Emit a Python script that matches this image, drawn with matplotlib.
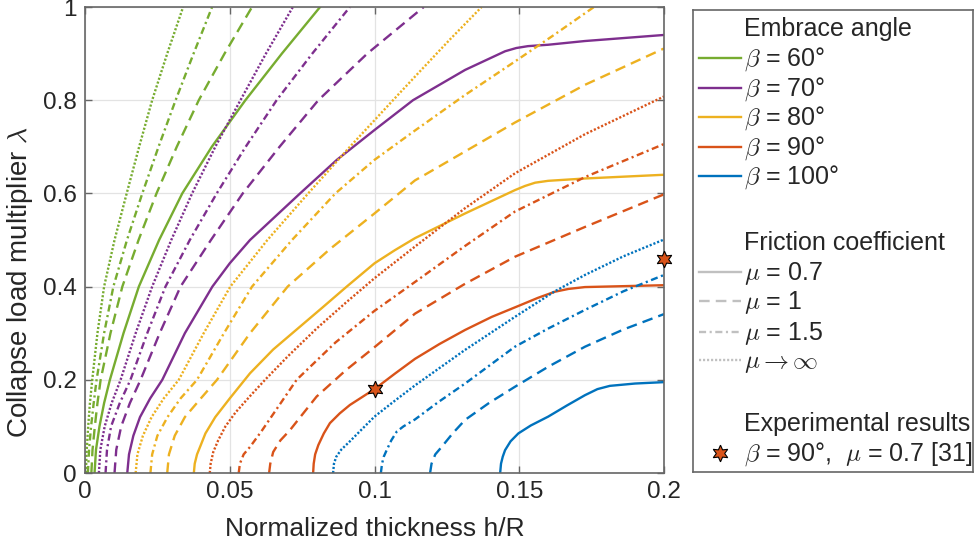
import matplotlib
matplotlib.use("Agg")
import matplotlib.pyplot as plt
from matplotlib.ticker import FixedLocator, FuncFormatter

plt.rcParams['font.family'] = ['Liberation Sans', 'DejaVu Sans']
plt.rcParams['mathtext.fontset'] = 'cm'

# Normalized thickness h/R (x) and collapse multiplier lambda (y)
# beta = 60 deg
g_h_07 = [0.0033, 0.0038, 0.0050, 0.0066, 0.0086, 0.0133, 0.0186, 0.0256, 0.0336, 0.0438, 0.0554, 0.0680, 0.0812]
g_l_07 = [0.0, 0.05, 0.10, 0.15, 0.20, 0.30, 0.40, 0.50, 0.60, 0.70, 0.80, 0.90, 1.00]
g_h_1 = [0.0022, 0.0026, 0.0034, 0.0043, 0.0054, 0.0088, 0.0129, 0.0185, 0.0247, 0.0317, 0.0393, 0.0482, 0.0577]
g_l_1 = [0.0, 0.05, 0.10, 0.15, 0.20, 0.30, 0.40, 0.50, 0.60, 0.70, 0.80, 0.90, 1.00]
g_h_15 = [0.0010, 0.0014, 0.0021, 0.0030, 0.0040, 0.0066, 0.0098, 0.0145, 0.0198, 0.0254, 0.0313, 0.0375, 0.0439]
g_l_15 = [0.0, 0.05, 0.10, 0.15, 0.20, 0.30, 0.40, 0.50, 0.60, 0.70, 0.80, 0.90, 1.00]
g_h_inf = [0.0003, 0.0006, 0.0011, 0.0017, 0.0025, 0.0043, 0.0066, 0.0102, 0.0144, 0.0187, 0.0232, 0.0284, 0.0339]
g_l_inf = [0.0, 0.05, 0.10, 0.15, 0.20, 0.30, 0.40, 0.50, 0.60, 0.70, 0.80, 0.90, 1.00]

# beta = 70 deg
p_h_07 = [0.0146, 0.0152, 0.0167, 0.0190, 0.0225, 0.0267, 0.0345, 0.0440, 0.0500, 0.0570, 0.0743, 0.0870,
          0.1000, 0.1133, 0.1313, 0.1451, 0.1490, 0.1530, 0.1600, 0.1727, 0.2000]
p_l_07 = [0.0, 0.04, 0.08, 0.12, 0.16, 0.20, 0.30, 0.40, 0.45, 0.50, 0.60, 0.672,
          0.736, 0.80, 0.865, 0.905, 0.912, 0.916, 0.919, 0.927, 0.940]
p_h_1 = [0.0102, 0.0108, 0.0125, 0.0155, 0.0192, 0.0258, 0.0330, 0.0435, 0.0545, 0.0672, 0.0806, 0.0975, 0.1170]
p_l_1 = [0.0, 0.05, 0.10, 0.15, 0.20, 0.30, 0.40, 0.50, 0.60, 0.70, 0.80, 0.90, 1.00]
p_h_15 = [0.0071, 0.0076, 0.0090, 0.0120, 0.0157, 0.0215, 0.0278, 0.0362, 0.0455, 0.0555, 0.0662, 0.0785, 0.0915]
p_l_15 = [0.0, 0.05, 0.10, 0.15, 0.20, 0.30, 0.40, 0.50, 0.60, 0.70, 0.80, 0.90, 1.00]
p_h_inf = [0.0048, 0.0053, 0.0068, 0.0092, 0.0123, 0.0175, 0.0232, 0.0298, 0.0370, 0.0450, 0.0537, 0.0625, 0.0718]
p_l_inf = [0.0, 0.05, 0.10, 0.15, 0.20, 0.30, 0.40, 0.50, 0.60, 0.70, 0.80, 0.90, 1.00]

# beta = 80 deg
y_h_07 = [0.0376, 0.0379, 0.0387, 0.0400, 0.0416, 0.0450, 0.0500, 0.0570, 0.0650, 0.0735, 0.0820, 0.0904,
          0.1000, 0.1070, 0.1140, 0.1313, 0.1485, 0.1520, 0.1555, 0.1600, 0.1727, 0.2000]
y_l_07 = [0.0, 0.02, 0.04, 0.06, 0.085, 0.12, 0.16, 0.214, 0.265, 0.31, 0.355, 0.40,
          0.45, 0.478, 0.504, 0.557, 0.607, 0.616, 0.623, 0.627, 0.632, 0.640]
y_h_1 = [0.0284, 0.0290, 0.0310, 0.0345, 0.0400, 0.0456, 0.0570, 0.0700, 0.0845, 0.1000, 0.1140, 0.1174,
         0.1485, 0.1727, 0.2000]
y_l_1 = [0.0, 0.04, 0.08, 0.12, 0.16, 0.20, 0.30, 0.40, 0.48, 0.557, 0.628, 0.640,
         0.752, 0.833, 0.911]
y_h_15 = [0.0226, 0.0232, 0.0250, 0.0285, 0.0330, 0.0387, 0.0480, 0.0577, 0.0715, 0.0865, 0.1000, 0.1140,
          0.1310, 0.1485, 0.1620, 0.1758]
y_l_15 = [0.0, 0.04, 0.08, 0.12, 0.16, 0.20, 0.30, 0.40, 0.50, 0.60, 0.672, 0.735,
          0.81, 0.883, 0.94, 1.00]
y_h_inf = [0.0175, 0.0181, 0.0200, 0.0230, 0.0272, 0.0324, 0.0410, 0.0502, 0.0630, 0.0771, 0.0915, 0.1064,
           0.1151, 0.1260, 0.1370]
y_l_inf = [0.0, 0.04, 0.08, 0.12, 0.16, 0.20, 0.30, 0.40, 0.50, 0.60, 0.70, 0.80,
           0.858, 0.93, 1.00]

# beta = 90 deg
o_h_07 = [0.0788, 0.0790, 0.0795, 0.0806, 0.0825, 0.0846, 0.0880, 0.0915, 0.1000, 0.1070, 0.1140, 0.1225,
          0.1313, 0.1405, 0.1503, 0.1565, 0.1623, 0.1670, 0.1727, 0.2000]
o_l_07 = [0.0, 0.02, 0.04, 0.06, 0.085, 0.107, 0.128, 0.146, 0.180, 0.213, 0.245, 0.277,
          0.307, 0.335, 0.360, 0.376, 0.389, 0.395, 0.399, 0.403]
o_h_1 = [0.0636, 0.0640, 0.0650, 0.0675, 0.0708, 0.0750, 0.0800, 0.0900, 0.1000, 0.1140, 0.1310, 0.1485,
         0.1727, 0.2000]
o_l_1 = [0.0, 0.02, 0.045, 0.07, 0.092, 0.125, 0.164, 0.22, 0.27, 0.342, 0.405, 0.464,
         0.528, 0.598]
o_h_15 = [0.0531, 0.0535, 0.0548, 0.0570, 0.0610, 0.0665, 0.0731, 0.0865, 0.1000, 0.1140, 0.1310, 0.1485,
          0.1727, 0.2000]
o_l_15 = [0.0, 0.02, 0.04, 0.056, 0.09, 0.14, 0.20, 0.28, 0.348, 0.41, 0.486, 0.561,
          0.635, 0.706]
o_h_inf = [0.0431, 0.0434, 0.0443, 0.0460, 0.0485, 0.0520, 0.0570, 0.0622, 0.0700, 0.0800, 0.0900, 0.1000,
           0.1140, 0.1310, 0.1485, 0.1727, 0.2000]
o_l_inf = [0.0, 0.02, 0.045, 0.07, 0.10, 0.13, 0.165, 0.20, 0.25, 0.31, 0.365, 0.418,
           0.486, 0.567, 0.643, 0.727, 0.808]

# beta = 100 deg
b_h_07 = [0.1434, 0.1437, 0.1443, 0.1451, 0.1470, 0.1497, 0.1540, 0.1600, 0.1665, 0.1727, 0.1770, 0.1813,
          0.1900, 0.2000]
b_l_07 = [0.0, 0.02, 0.035, 0.049, 0.068, 0.085, 0.102, 0.121, 0.145, 0.167, 0.180, 0.187,
          0.192, 0.195]
b_h_1 = [0.1192, 0.1197, 0.1210, 0.1232, 0.1270, 0.1313, 0.1395, 0.1485, 0.1600, 0.1727, 0.1860, 0.2000]
b_l_1 = [0.0, 0.02, 0.04, 0.056, 0.085, 0.114, 0.15, 0.185, 0.228, 0.271, 0.308, 0.341]
b_h_15 = [0.1022, 0.1026, 0.1032, 0.1042, 0.1058, 0.1077, 0.1100, 0.1140, 0.1220, 0.1313, 0.1400, 0.1485,
          0.1600, 0.1727, 0.1860, 0.2000]
b_l_15 = [0.0, 0.02, 0.035, 0.049, 0.07, 0.089, 0.10, 0.115, 0.152, 0.192, 0.232, 0.271,
          0.31, 0.35, 0.39, 0.425]
b_h_inf = [0.0857, 0.0860, 0.0868, 0.0885, 0.0915, 0.0955, 0.1000, 0.1070, 0.1140, 0.1310, 0.1485, 0.1623,
           0.1727, 0.1860, 0.2000]
b_l_inf = [0.0, 0.02, 0.035, 0.05, 0.068, 0.093, 0.121, 0.155, 0.188, 0.263, 0.335, 0.39,
           0.425, 0.465, 0.501]

# experimental points (beta = 90, mu = 0.7)
exp_h = [0.1, 0.2]
exp_l = [0.18, 0.46]

beta_labels = ['60°', '70°', '80°', '90°', '100°']
mu_labels = ['0.7', '1', '1.5']
colors = ['#77AC30', '#7E2F8E', '#EDB120', '#D95319', '#0072BD']

dashes = {
    '07': '-',
    '1': (0, (4.5, 2.6)),
    '15': (0, (3.0, 1.5, 0.9, 1.5)),
    'inf': (0, (0.9, 0.8)),
}

curves = [
    (g_h_07, g_l_07, 0, '07'), (g_h_1, g_l_1, 0, '1'), (g_h_15, g_l_15, 0, '15'), (g_h_inf, g_l_inf, 0, 'inf'),
    (p_h_07, p_l_07, 1, '07'), (p_h_1, p_l_1, 1, '1'), (p_h_15, p_l_15, 1, '15'), (p_h_inf, p_l_inf, 1, 'inf'),
    (y_h_07, y_l_07, 2, '07'), (y_h_1, y_l_1, 2, '1'), (y_h_15, y_l_15, 2, '15'), (y_h_inf, y_l_inf, 2, 'inf'),
    (o_h_07, o_l_07, 3, '07'), (o_h_1, o_l_1, 3, '1'), (o_h_15, o_l_15, 3, '15'), (o_h_inf, o_l_inf, 3, 'inf'),
    (b_h_07, b_l_07, 4, '07'), (b_h_1, b_l_1, 4, '1'), (b_h_15, b_l_15, 4, '15'), (b_h_inf, b_l_inf, 4, 'inf'),
]

fs = 17.5
lw = 1.7
dark = '#262626'
frame = '#666666'
star = (6, 1, 0)

fig = plt.figure(figsize=(9.74, 5.5), dpi=100)
ax = fig.add_axes([85 / 974, 77 / 550, 579 / 974, 466 / 550])

for h, l, ci, mu in curves:
    ax.plot(h, l, color=colors[ci], linestyle=dashes[mu], lw=lw,
            solid_joinstyle='round', dash_joinstyle='round')

ax.plot(exp_h, exp_l, linestyle='none', marker=star, ms=12, mfc='#D95319',
        mec='black', mew=0.8, clip_on=False, zorder=5)

ax.set_xlim(0, 0.2)
ax.set_ylim(0, 1)
ax.xaxis.set_major_locator(FixedLocator([0, 0.05, 0.1, 0.15, 0.2]))
ax.yaxis.set_major_locator(FixedLocator([0, 0.2, 0.4, 0.6, 0.8, 1.0]))
fmt = FuncFormatter(lambda v, p: ('%g' % round(v, 3)))
ax.xaxis.set_major_formatter(fmt)
ax.yaxis.set_major_formatter(fmt)
ax.grid(True, color='#e3e3e3', lw=0.9)
ax.set_axisbelow(True)
ax.tick_params(direction='in', length=5, width=1, colors=frame,
               labelcolor=dark, labelsize=fs, top=True, right=True, pad=6)
for s in ax.spines.values():
    s.set_color(frame)
    s.set_linewidth(1.2)

ax.set_xlabel('Normalized thickness h/R', fontsize=19, color=dark, labelpad=10)
ax.set_ylabel(r'Collapse load multiplier $\lambda$', fontsize=20, color=dark)
ax.yaxis.set_label_coords(-0.086, 0.41)

# legend drawn by hand in a pixel-sized axes
lx0, ly0, lw_px, lh_px = 693, 10, 280, 462
lax = fig.add_axes([lx0 / 974, 1 - (ly0 + lh_px) / 550, lw_px / 974, lh_px / 550])
lax.set_xlim(0, lw_px)
lax.set_ylim(lh_px, 0)
lax.set_xticks([])
lax.set_yticks([])
for s in lax.spines.values():
    s.set_color(frame)
    s.set_linewidth(1.2)

row_y = [18, 48, 78, 107, 137, 166, 232, 262, 291, 322, 350, 413, 443]
tx = 51
x0, x1 = 6, 48
base = 8


def leg_text(y, s):
    lax.text(tx, y + base, s, fontsize=18, color=dark, va='baseline', ha='left')


leg_text(row_y[0], 'Embrace angle')
for i, (c, b) in enumerate(zip(colors, beta_labels)):
    y = row_y[1 + i]
    lax.plot([x0, x1], [y, y], color=c, lw=lw)
    leg_text(y, r'$\beta$ = ' + b)
leg_text(row_y[6], 'Friction coefficient')
for i, key in enumerate(['07', '1', '15', 'inf']):
    y = row_y[7 + i]
    lax.plot([x0, x1], [y, y], color='#c0c0c0', lw=lw, linestyle=dashes[key])
    if key == 'inf':
        leg_text(y, r'$\mu\rightarrow\infty$')
    else:
        leg_text(y, r'$\mu$ = ' + mu_labels[i])
leg_text(row_y[11], 'Experimental results')
lax.plot([27], [row_y[12]], linestyle='none', marker=star, ms=12,
         mfc='#D95319', mec='black', mew=0.8)
leg_text(row_y[12], r'$\beta$ = 90°,  $\mu$ = 0.7 [31]')

fig.savefig('out.png', dpi=100)
